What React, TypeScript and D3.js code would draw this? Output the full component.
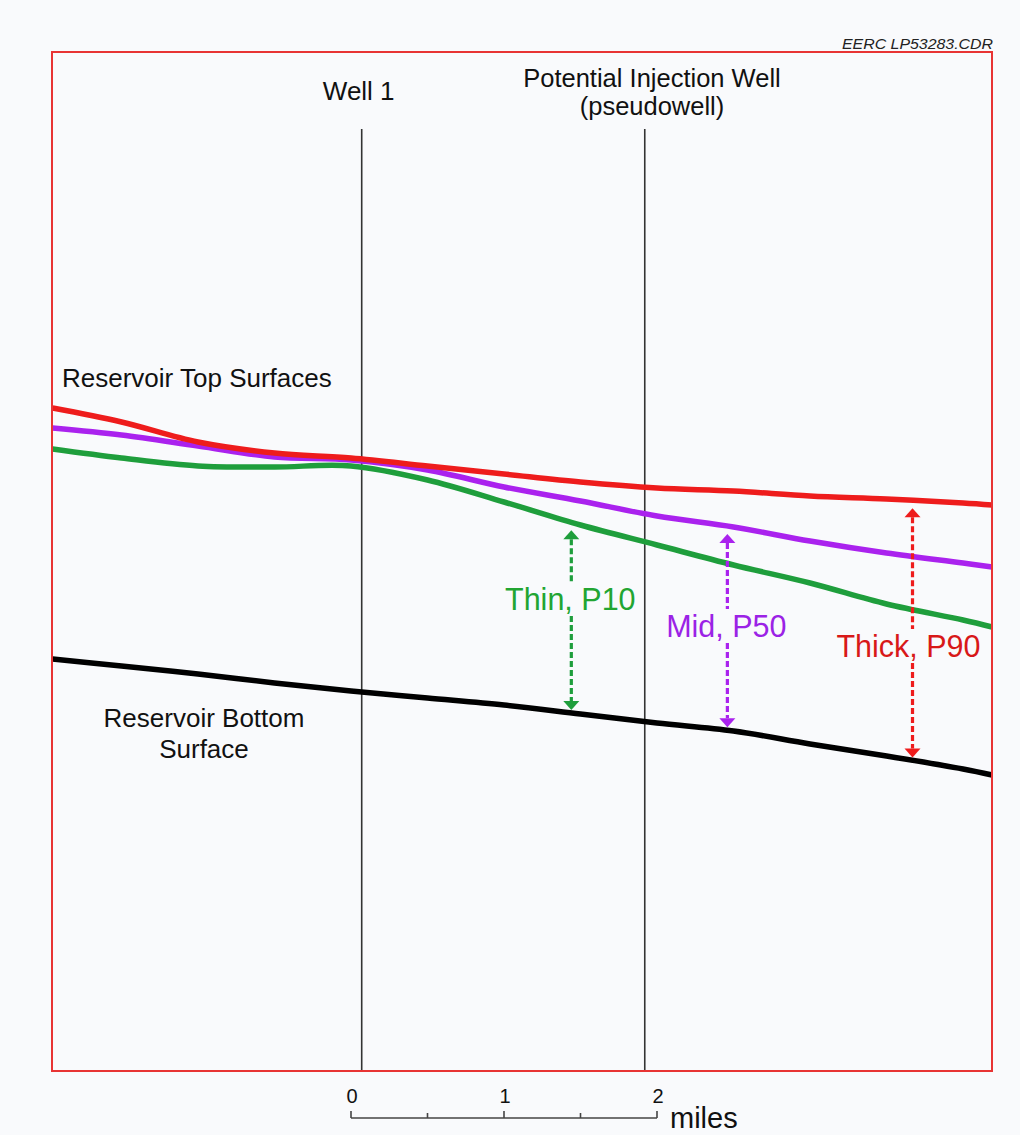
import React from 'react';
import * as d3 from 'd3';

const W = 1020;
const H = 1135;

// Distance along the cross-section, miles (0 = scale-bar origin)
const distanceMi = [-1.95, -1.5, -1.0, -0.5, 0, 0.5, 1.0, 1.5, 2.0, 2.5, 3.0, 3.5, 4.0, 4.19];

// Relative depth of each mapped surface (depth units, increasing downward)
const topThickP90 = [356, 370, 390, 401, 406, 414, 422, 430, 436, 439, 444, 447, 451, 453];
const topMidP50 = [376, 383, 394, 405, 408, 418, 435, 449, 464, 475, 489, 501, 511, 515];
const topThinP10 = [397, 406, 414, 415, 414, 428, 450, 473, 493, 513, 531, 552, 568, 575];
const bottomSurface = [607, 614, 622, 631, 639, 646, 653, 662, 671, 679, 692, 704, 717, 723];

// Wells along the section
const wellNames = ['Well 1', 'Potential Injection Well'];
const wellSubtitles = ['', '(pseudowell)'];
const wellMi = [0.07, 1.92];

// Thickness annotations: label, position along section, label depth
const thicknessLabels = ['Thin, P10', 'Mid, P50', 'Thick, P90'];
const thicknessMi = [1.44, 2.46, 3.67];
const thicknessLabelDepth = [547, 574, 594];

// Scale bar ticks (miles)
const scaleMajor = [0, 1, 2];
const scaleMinor = [0.5, 1.5];

const COLORS = {
  thick: '#ee1c1c',
  mid: '#aa22ee',
  thin: '#1f9e3c',
  bottom: '#000000',
};
const LABEL_COLORS = ['#22a532', '#9b22e6', '#d81818'];
const SERIES = [
  { values: topThinP10, color: COLORS.thin },
  { values: topMidP50, color: COLORS.mid },
  { values: topThickP90, color: COLORS.thick },
];

const FONT = '"Liberation Sans", Arial, Helvetica, sans-serif';

function interp(xs: number[], ys: number[], x: number): number {
  const i = Math.max(1, Math.min(xs.length - 1, d3.bisectLeft(xs, x)));
  const t = (x - xs[i - 1]) / (xs[i] - xs[i - 1]);
  return ys[i - 1] + t * (ys[i] - ys[i - 1]);
}

export default function App() {
  const frame = { left: 52, right: 992, top: 52, bottom: 1071 };

  const x = d3.scaleLinear().domain([0, 2]).range([351, 657]);
  const y = d3.scaleLinear().domain([0, 1019]).range([frame.top, frame.bottom]);

  const line = d3
    .line<number>()
    .x((_, i) => x(distanceMi[i]))
    .y((d) => y(d))
    .curve(d3.curveCatmullRom.alpha(0.5));

  const scaleY = 1118;

  const annotSeries = [topThinP10, topMidP50, topThickP90];
  const arrowColors = [COLORS.thin, COLORS.mid, COLORS.thick];

  return (
    <svg
      width={W}
      height={H}
      style={{ position: 'absolute', left: 0, top: 0, background: '#f9fafc' }}
      fontFamily={FONT}
    >
      <rect x={0} y={0} width={W} height={H} fill="#f9fafc" />

      {/* drawing number */}
      <text
        x={993}
        y={49}
        textAnchor="end"
        fontSize={14.5}
        fontStyle="italic"
        fill="#222"
        textLength={151}
        lengthAdjust="spacingAndGlyphs"
      >
        EERC LP53283.CDR
      </text>

      {/* well lines */}
      {wellMi.map((w, i) => (
        <line
          key={'well' + i}
          x1={x(w)}
          x2={x(w)}
          y1={129}
          y2={frame.bottom}
          stroke="#333"
          strokeWidth={1.6}
        />
      ))}

      {/* well labels */}
      <text x={x(wellMi[0]) - 3} y={100} textAnchor="middle" fontSize={26} fill="#111">
        {wellNames[0]}
      </text>
      <text x={652} y={87} textAnchor="middle" fontSize={25.5} fill="#111">
        {wellNames[1]}
      </text>
      <text x={652} y={115} textAnchor="middle" fontSize={25.5} fill="#111">
        {wellSubtitles[1]}
      </text>

      {/* bottom surface */}
      <path d={line(bottomSurface) || ''} fill="none" stroke={COLORS.bottom} strokeWidth={5.5} />

      {/* top surfaces (thin first, thick drawn on top) */}
      {SERIES.map((s, k) => (
        <path
          key={'top' + k}
          d={line(s.values) || ''}
          fill="none"
          stroke={s.color}
          strokeWidth={5.5}
        />
      ))}

      {/* thickness arrows */}
      {thicknessLabels.map((lab, i) => {
        const xm = thicknessMi[i];
        const px = x(xm);
        const yTop = y(interp(distanceMi, annotSeries[i], xm)) + 8;
        const yBot = y(interp(distanceMi, bottomSurface, xm)) - 3;
        const yLab = y(thicknessLabelDepth[i]);
        const gap = 17;
        const head = 9;
        const hw = 8;
        const col = arrowColors[i];
        return (
          <g key={'arrow' + i}>
            <line
              x1={px}
              x2={px}
              y1={yTop + head}
              y2={yLab - gap}
              stroke={col}
              strokeWidth={3.2}
              strokeDasharray="6 3"
            />
            <line
              x1={px}
              x2={px}
              y1={yLab + gap}
              y2={yBot - head}
              stroke={col}
              strokeWidth={3.2}
              strokeDasharray="6 3"
            />
            <path
              d={`M${px},${yTop} L${px - hw},${yTop + head} L${px + hw},${yTop + head} Z`}
              fill={col}
            />
            <path
              d={`M${px},${yBot} L${px - hw},${yBot - head} L${px + hw},${yBot - head} Z`}
              fill={col}
            />
            <text
              x={px - (i === 2 ? 4 : 1)}
              y={yLab + 11}
              textAnchor="middle"
              fontSize={30.5}
              fill={LABEL_COLORS[i]}
            >
              {lab}
            </text>
          </g>
        );
      })}

      {/* surface labels */}
      <text x={62} y={387} fontSize={26} fill="#111">
        Reservoir Top Surfaces
      </text>
      <text x={204} y={727} textAnchor="middle" fontSize={26} fill="#111">
        Reservoir Bottom
      </text>
      <text x={204} y={758} textAnchor="middle" fontSize={26} fill="#111">
        Surface
      </text>

      {/* frame */}
      <rect
        x={frame.left}
        y={frame.top}
        width={frame.right - frame.left}
        height={frame.bottom - frame.top}
        fill="none"
        stroke="#e83434"
        strokeWidth={2}
      />

      {/* scale bar */}
      <g stroke="#444" strokeWidth={1.6}>
        <line x1={x(0)} x2={x(2)} y1={scaleY} y2={scaleY} />
        {scaleMajor.map((t) => (
          <line key={'M' + t} x1={x(t)} x2={x(t)} y1={scaleY - 7} y2={scaleY} />
        ))}
        {scaleMinor.map((t) => (
          <line key={'m' + t} x1={x(t)} x2={x(t)} y1={scaleY - 5} y2={scaleY} />
        ))}
      </g>
      {scaleMajor.map((t) => (
        <text
          key={'L' + t}
          x={x(t) + 1}
          y={1103}
          textAnchor="middle"
          fontSize={20}
          fill="#111"
        >
          {t}
        </text>
      ))}
      <text x={670} y={1128} fontSize={29} fill="#111">
        miles
      </text>
    </svg>
  );
}
